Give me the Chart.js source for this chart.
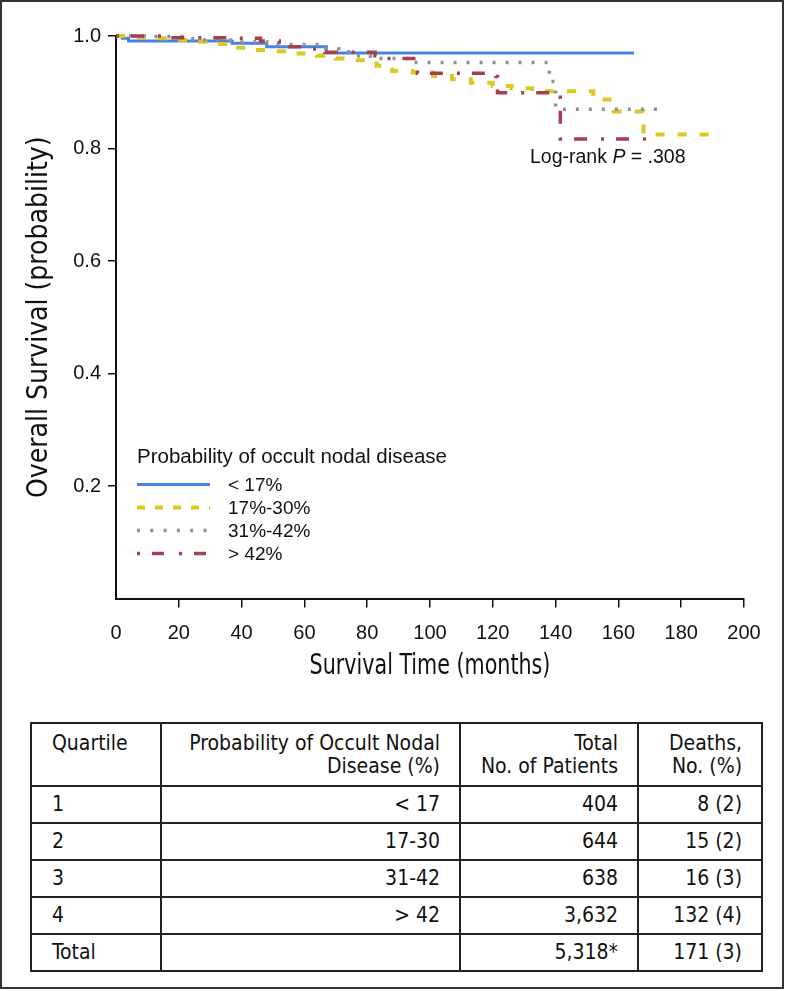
<!DOCTYPE html>
<html>
<head>
<meta charset="utf-8">
<script src="https://cdn.jsdelivr.net/npm/chart.js@4.4.1/dist/chart.umd.min.js"></script>
<style>
  body { margin: 0; background: #fff; }
  #frame { position: absolute; left: 0; top: 0; width: 784px; height: 989px; box-sizing: border-box; border: 2px solid #333; }
  #plot { position: absolute; left: 0; top: 0; }
  table { position: absolute; left: 30px; top: 722px; width: 731px; border-collapse: collapse; table-layout: fixed;
          font-family: "DejaVu Sans Condensed", sans-serif; font-size: 21px; color: #111; }
  td { border: 2px solid #222; padding: 0 19px 0 20px; line-height: 23px; vertical-align: middle; white-space: nowrap; }
  tr.head td { height: 63px; vertical-align: top; padding-top: 8px; box-sizing: border-box; }
  tr.row td { height: 35px; }
  td.r { text-align: right; padding-left: 4px; }
</style>
</head>
<body>
<div id="frame"></div>
<canvas id="plot" width="786" height="700"></canvas>
<table id="tbl">
  <colgroup><col style="width:130px"><col style="width:299px"><col style="width:178px"><col style="width:124px"></colgroup>
</table>
<script>
// survival curves (months, probability)
var lowT  = [0, 2, 4, 37, 48, 67, 165];
var lowS  = [1, 0.996, 0.991, 0.987, 0.981, 0.970, 0.970];

var midT  = [0, 4.5, 11, 18, 25, 31.5, 37.5, 44, 51, 57, 64, 70, 77, 83, 88, 94.5, 101, 107, 113, 120, 126, 132.5, 152, 158.5, 168, 189];
var midS  = [1, 0.998, 0.996, 0.993, 0.990, 0.986, 0.979, 0.975, 0.973, 0.969, 0.965, 0.960, 0.957, 0.947, 0.938, 0.935, 0.929, 0.923, 0.917, 0.911, 0.907, 0.902, 0.887, 0.866, 0.825, 0.825];

var highT = [0, 9, 21, 26, 40, 48, 65.5, 71, 75, 81, 93.5, 138, 140, 175];
var highS = [1, 0.999, 0.995, 0.993, 0.990, 0.985, 0.977, 0.972, 0.966, 0.960, 0.953, 0.919, 0.870, 0.870];

var topT  = [0, 15.6, 36, 46, 52, 62, 66.5, 82.5, 85.5, 96, 121, 121.5, 140.5, 141.5, 169.5];
var topS  = [1, 0.997, 0.996, 0.991, 0.981, 0.977, 0.971, 0.965, 0.960, 0.934, 0.928, 0.899, 0.891, 0.817, 0.817];

var groupLabels = ['< 17%', '17%-30%', '31%-42%', '> 42%'];
var xTicks = [0, 20, 40, 60, 80, 100, 120, 140, 160, 180, 200];

// table
var tblHead = ['Quartile', 'Probability of Occult Nodal<br>Disease (%)', 'Total<br>No. of Patients', 'Deaths,<br>No. (%)'];
var quartiles = ['1', '2', '3', '4', 'Total'];
var ranges = ['< 17', '17-30', '31-42', '> 42', ''];
var patients = ['404', '644', '638', '3,632', '5,318*'];
var deaths = ['8 (2)', '15 (2)', '16 (3)', '132 (4)', '171 (3)'];

var tbl = document.getElementById('tbl');
var html = '<tr class="head"><td>' + tblHead[0] + '</td><td class="r">' + tblHead[1] + '</td><td class="r">' + tblHead[2] + '</td><td class="r">' + tblHead[3] + '</td></tr>';
for (var i = 0; i < quartiles.length; i++) {
  html += '<tr class="row"><td>' + quartiles[i] + '</td><td class="r">' + ranges[i] + '</td><td class="r">' + patients[i] + '</td><td class="r">' + deaths[i] + '</td></tr>';
}
tbl.insertAdjacentHTML('beforeend', html);

function pts(t, s) {
  var out = [];
  for (var i = 0; i < t.length; i++) out.push({x: t[i], y: s[i]});
  return out;
}

var colors = ['#4683e2', '#dcc81e', '#8c9292', '#a6404f'];
var widths = [3, 4, 3.5, 3.5];
var dashes = [[], [9, 13], [3, 10], [3, 12, 13, 14]];
var legendDashes = [[], [8, 10], [3, 10.3], [3, 12, 12, 15]];
var series = [pts(lowT, lowS), pts(midT, midS), pts(highT, highS), pts(topT, topS)];

var datasets = [];
for (var k = 0; k < series.length; k++) {
  datasets.push({
    label: groupLabels[k],
    data: series[k],
    borderColor: colors[k],
    borderWidth: widths[k],
    borderDash: dashes[k],
    borderCapStyle: 'butt',
    stepped: true,
    pointRadius: 0,
    fill: false,
    clip: false,
    order: 4 - k
  });
}

var txtFont = '"Liberation Sans", Arial, sans-serif';
var titleFont = '"DejaVu Sans Condensed", sans-serif';

var overlay = {
  id: 'overlay',
  afterDraw: function(chart) {
    var c = chart.ctx;
    c.save();
    c.fillStyle = '#111';
    c.textBaseline = 'middle';

    // x axis title, narrow like the original
    c.save();
    c.translate((chart.chartArea.left + chart.chartArea.right) / 2, 667);
    c.scale(0.82, 1);
    c.font = '28px ' + titleFont;
    c.textAlign = 'center';
    c.fillText('Survival Time (months)', 0, 0);
    c.restore();

    // log-rank note
    var x = 530, y = 158;
    c.font = '19.5px ' + txtFont;
    c.fillText('Log-rank ', x, y); x += c.measureText('Log-rank ').width;
    c.font = 'italic 19.5px ' + txtFont;
    c.fillText('P', x, y); x += c.measureText('P').width;
    c.font = '19.5px ' + txtFont;
    c.fillText(' = .308', x, y);

    // legend
    c.font = '20.5px ' + txtFont;
    c.fillText('Probability of occult nodal disease', 137, 457);
    c.font = '19px ' + txtFont;
    var rows = [486, 509, 532, 555];
    for (var i = 0; i < groupLabels.length; i++) {
      c.beginPath();
      c.strokeStyle = colors[i];
      c.lineWidth = widths[i];
      c.setLineDash(legendDashes[i]);
      c.moveTo(137, rows[i] - 1.5);
      c.lineTo(210, rows[i] - 1.5);
      c.stroke();
      c.setLineDash([]);
      c.fillText(groupLabels[i], 228, rows[i]);
    }
    c.restore();
  }
};

new Chart(document.getElementById('plot'), {
  type: 'line',
  data: { datasets: datasets },
  options: {
    responsive: false,
    animation: false,
    layout: { padding: { top: 36, right: 42, left: 0, bottom: 0 } },
    plugins: { legend: { display: false }, tooltip: { enabled: false } },
    scales: {
      x: {
        type: 'linear', min: 0, max: 200,
        afterFit: function(s) { s.height = 101.5; },
        afterBuildTicks: function(s) { s.ticks = xTicks.map(function(v) { return {value: v}; }); },
        ticks: { color: '#111', font: { family: txtFont, size: 20 }, padding: 14, maxRotation: 0, autoSkip: false },
        grid: { drawOnChartArea: false, tickLength: 9, lineWidth: 1.5,
                color: function(ctx) { return ctx.tick && ctx.tick.value === 0 ? 'rgba(0,0,0,0)' : '#111'; } },
        border: { color: '#111', width: 2 }
      },
      y: {
        min: 0, max: 1,
        afterFit: function(s) { s.width = 116; },
        ticks: { stepSize: 0.2, color: '#111', font: { family: txtFont, size: 20 }, padding: 7,
                 callback: function(v) { return v === 0 ? '' : v.toFixed(1); } },
        grid: { drawOnChartArea: false, tickLength: 8, lineWidth: 1.5,
                color: function(ctx) { return ctx.tick && ctx.tick.value === 0 ? 'rgba(0,0,0,0)' : '#111'; } },
        border: { color: '#111', width: 2 },
        title: { display: true, text: 'Overall Survival (probability)', color: '#111',
                 font: { family: titleFont, size: 28 },
                 padding: { top: 23, bottom: 0 } }
      }
    }
  },
  plugins: [overlay]
});
</script>
</body>
</html>
